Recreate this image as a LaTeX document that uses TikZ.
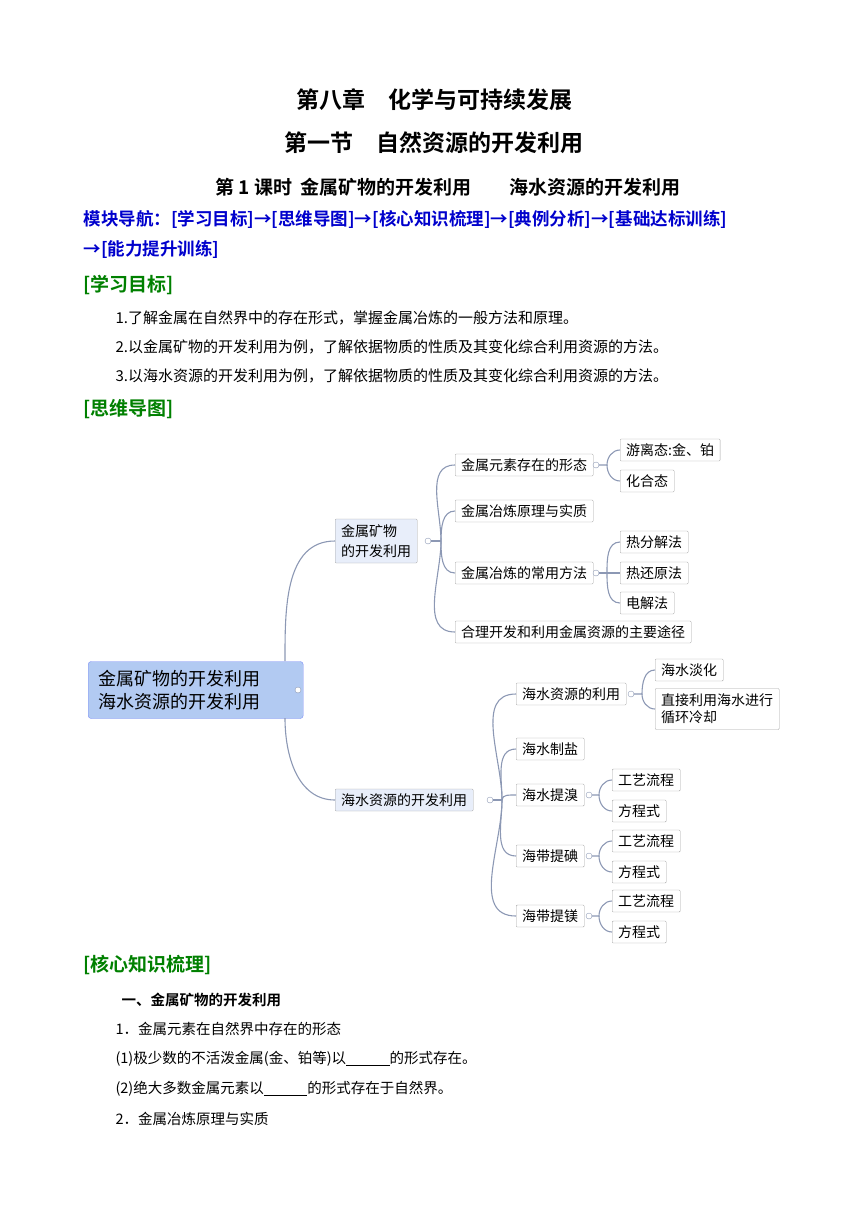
\documentclass[tikz,border=0pt]{standalone}
\usepackage{fontspec}
\setmainfont{Noto Sans CJK SC}
\newfontfamily\cjkb{Noto Sans CJK SC Bold}
\definecolor{lnc}{RGB}{140,152,180}
\definecolor{rootc}{RGB}{178,202,242}
\definecolor{boxa}{RGB}{232,238,250}
\begin{document}
\begin{tikzpicture}[x=1pt,y=-1pt,
  bx/.style={draw=gray!70,fill=white,anchor=west,font=\fontsize{14}{16}\selectfont,inner xsep=6pt,minimum height=22pt,align=left,rounded corners=1pt},
  bxa/.style={bx,fill=boxa},
  ln/.style={draw=lnc,line width=1.1pt},
  tog/.style={circle,draw=lnc,fill=white,inner sep=0pt,minimum size=6pt},
  ttl/.style={font=\cjkb\fontsize{23}{26}\selectfont},
  hd/.style={anchor=west,text=green!50!black,font=\cjkb\fontsize{19}{21}\selectfont},
  tx/.style={anchor=west,font=\fontsize{15}{17}\selectfont},
  kx/.style={anchor=west,font=\fontsize{14.5}{17}\selectfont},
  nav/.style={anchor=west,text=blue!80!black,font=\cjkb\fontsize{17.5}{20}\selectfont}]
\useasboundingbox (0,0) rectangle (868,1227);
\node[ttl] (t1) at (434,100) {第八章\quad 化学与可持续发展};
\node[ttl] (t2) at (434,143) {第一节\quad 自然资源的开发利用};
\node[font=\cjkb\fontsize{19}{21}\selectfont] (t3) at (448,187) {第 1 课时\ \ 金属矿物的开发利用\qquad 海水资源的开发利用};
\node[nav] (n1) at (80,219) {模块导航：[学习目标]→[思维导图]→[核心知识梳理]→[典例分析]→[基础达标训练]};
\node[nav] (n2) at (80,249) {→[能力提升训练]};
\node[hd] (h1) at (80,285) {[学习目标]};
\node[tx] (l1) at (112,318) {1.了解金属在自然界中的存在形式，掌握金属冶炼的一般方法和原理。};
\node[tx] (l2) at (112,347) {2.以金属矿物的开发利用为例，了解依据物质的性质及其变化综合利用资源的方法。};
\node[tx] (l3) at (112,376) {3.以海水资源的开发利用为例，了解依据物质的性质及其变化综合利用资源的方法。};
\node[hd] (h2) at (80,409) {[思维导图]};
\node[hd] (h3) at (80,965) {[核心知识梳理]};
\node[kx,font=\cjkb\fontsize{14.5}{17}\selectfont] (k0) at (118,1000) {一、金属矿物的开发利用};
\node[kx] (k1) at (112,1029) {1．金属元素在自然界中存在的形态};
\node[kx] (k2) at (112,1059) {(1)极少数的不活泼金属(金、铂等)以\underline{\hspace{3em}}的形式存在。};
\node[kx] (k3) at (112,1089) {(2)绝大多数金属元素以\underline{\hspace{3em}}的形式存在于自然界。};
\node[kx] (k4) at (112,1119) {2．金属冶炼原理与实质};
% mind map
\node[draw=rootc!70!blue,fill=rootc,rounded corners=3pt,anchor=west,minimum width=215pt,minimum height=57pt,align=left,font=\fontsize{18}{23}\selectfont,text width=195pt,inner xsep=10pt] (root) at (88,690) {金属矿物的开发利用\\海水资源的开发利用};
\node[tog] (rt) at (298,690) {};
\node[bxa,minimum height=44pt,font=\fontsize{14}{20}\selectfont] (a1) at (335,541) {金属矿物\\的开发利用};
\node[bxa] (a2) at (335,800) {海水资源的开发利用};
\node[tog] (a1t) at (428,541) {};
\node[tog] (a2t) at (490,800) {};
\coordinate (r1) at (285,661);
\coordinate (r2) at (285,718);
\draw[ln] (r1) to[out=90,in=180] (a1.west);
\draw[ln] (r2) to[out=-90,in=180] (a2.west);
\node[bx] (b1) at (455,465) {金属元素存在的形态};
\node[bx] (b2) at (455,511) {金属冶炼原理与实质};
\node[bx] (b3) at (455,573) {金属冶炼的常用方法};
\node[bx] (b4) at (455,632) {合理开发和利用金属资源的主要途径};
\node[tog] (b1t) at (596,465) {};
\node[tog] (b3t) at (596,573) {};
\coordinate (s1) at (441,541);
\draw[ln] (a1t) -- (s1);
\draw[ln] (s1) to[out=90,in=180] (b1.west);
\draw[ln] (s1) to[out=90,in=180] (b2.west);
\draw[ln] (s1) to[out=-90,in=180] (b3.west);
\draw[ln] (s1) to[out=-90,in=180] (b4.west);
\node[bx] (c1) at (620,450) {游离态:金、铂};
\node[bx] (c2) at (620,481) {化合态};
\node[bx] (c3) at (620,542) {热分解法};
\node[bx] (c4) at (620,573) {热还原法};
\node[bx] (c5) at (620,603) {电解法};
\coordinate (s2) at (607,465);
\coordinate (s3) at (607,573);
\draw[ln] (b1t) -- (s2) to[out=90,in=180] (c1.west);
\draw[ln] (s2) to[out=-90,in=180] (c2.west);
\draw[ln] (b3t) -- (c4.west);
\draw[ln] (s3) to[out=90,in=180] (c3.west);
\draw[ln] (s3) to[out=-90,in=180] (c5.west);
\node[bx] (d1) at (516,694) {海水资源的利用};
\node[bx] (d2) at (516,749) {海水制盐};
\node[bx] (d3) at (516,795) {海水提溴};
\node[bx] (d4) at (516,856) {海带提碘};
\node[bx] (d5) at (516,916) {海带提镁};
\coordinate (s4) at (502,800);
\draw[ln] (a2t) -- (s4);
\draw[ln] (s4) to[out=90,in=180] (d1.west);
\draw[ln] (s4) to[out=90,in=180] (d2.west);
\draw[ln] (s4) to[out=90,in=180] (d3.west);
\draw[ln] (s4) to[out=-90,in=180] (d4.west);
\draw[ln] (s4) to[out=-90,in=180] (d5.west);
\node[tog] (d1t) at (631,694) {};
\node[tog] (d3t) at (589,795) {};
\node[tog] (d4t) at (589,856) {};
\node[tog] (d5t) at (589,916) {};
\node[bx] (e1) at (655,670) {海水淡化};
\node[bx,minimum height=41pt,font=\fontsize{14}{17}\selectfont] (e2) at (655,709) {直接利用海水进行\\循环冷却};
\coordinate (s5) at (642,694);
\draw[ln] (d1t) -- (s5) to[out=90,in=180] (e1.west);
\draw[ln] (s5) to[out=-90,in=180] (e2.west);
\foreach \d/\y in {d3/780,d4/841,d5/901}{
  \node[bx] (f\d) at (612,\y) {工艺流程};
  \node[bx] (g\d) at (612,\y+31) {方程式};
  \coordinate (t\d) at (599,\y+15);
  \draw[ln] (\d t) -- (t\d) to[out=90,in=180] (f\d.west);
  \draw[ln] (t\d) to[out=-90,in=180] (g\d.west);
}
\end{tikzpicture}
\end{document}
